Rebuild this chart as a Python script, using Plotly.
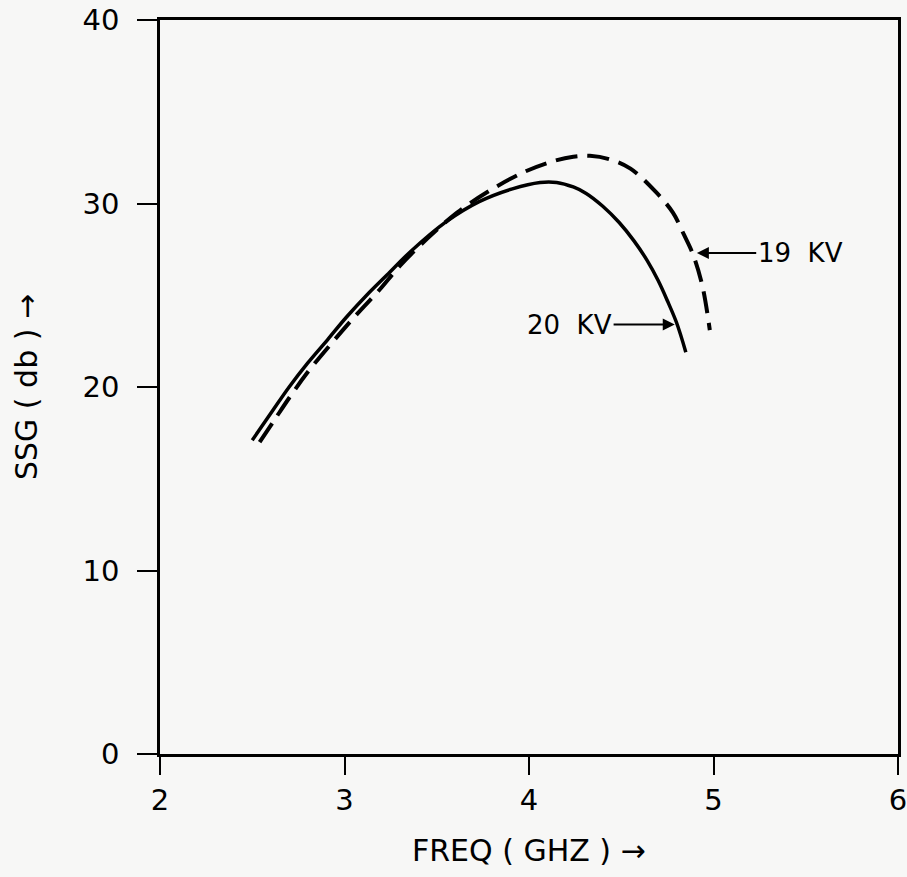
import plotly.graph_objects as go

# 20 KV (solid)
freq_20kv = [2.50, 2.61, 2.70, 2.80, 2.91, 3.01, 3.12, 3.23, 3.36, 3.55, 3.73, 3.91,
             4.06, 4.15, 4.24, 4.31, 4.40, 4.49, 4.57, 4.64, 4.70, 4.75, 4.80, 4.85]
ssg_20kv = [17.1, 18.7, 20.0, 21.3, 22.6, 23.8, 25.0, 26.1, 27.4, 29.0, 30.1, 30.8,
            31.15, 31.15, 30.9, 30.55, 29.85, 28.95, 27.95, 26.9, 25.8, 24.7, 23.5, 21.9]

# 19 KV (dashed)
freq_19kv = [2.54, 2.62, 2.70, 2.80, 2.94, 3.07, 3.19, 3.30, 3.45, 3.61, 3.77, 3.97,
             4.13, 4.24, 4.33, 4.44, 4.55, 4.69, 4.78, 4.84, 4.89, 4.94, 4.98]
ssg_19kv = [17.0, 18.2, 19.4, 20.8, 22.5, 24.0, 25.3, 26.6, 28.1, 29.5, 30.6, 31.7,
            32.3, 32.55, 32.6, 32.4, 31.9, 30.6, 29.5, 28.3, 27.2, 25.5, 23.1]

x_ticks = [2, 3, 4, 5, 6]
y_ticks = [0, 10, 20, 30, 40]

FONT = "DejaVu Sans"
BG = "#f7f7f6"

fig = go.Figure()
fig.add_trace(go.Scatter(x=freq_20kv, y=ssg_20kv, mode="lines",
                         line=dict(color="black", width=3.5, shape="spline", smoothing=1.0),
                         name="20 KV", showlegend=False))
fig.add_trace(go.Scatter(x=freq_19kv, y=ssg_19kv, mode="lines",
                         line=dict(color="black", width=4, dash="22px,10px",
                                   shape="spline", smoothing=1.0),
                         name="19 KV", showlegend=False))

axis_common = dict(showgrid=False, zeroline=False, showline=True, linecolor="black",
                   linewidth=2.5, mirror=True, ticks="outside",
                   tickwidth=2, tickcolor="black", automargin=False,
                   ticklabeloverflow="allow",
                   tickfont=dict(family=FONT, size=29, color="black"))

fig.update_xaxes(range=[2, 6], tickvals=x_ticks, ticktext=[str(v) for v in x_ticks],
                 ticklen=18, ticklabelstandoff=0, **axis_common)
fig.update_yaxes(range=[0, 40], tickvals=y_ticks, ticktext=[str(v) for v in y_ticks],
                 ticklen=20, ticklabelstandoff=12, **axis_common)

fig.add_annotation(x=4.91, y=27.3, ax=5.47, ay=27.3, axref="x", ayref="y",
                   text="19  KV", showarrow=True, arrowhead=2, arrowsize=1.2,
                   arrowwidth=2, arrowcolor="black",
                   font=dict(family=FONT, size=26, color="black"))
fig.add_annotation(x=4.79, y=23.4, ax=4.22, ay=23.4, axref="x", ayref="y",
                   text="20  KV", showarrow=True, arrowhead=2, arrowsize=1.2,
                   arrowwidth=2, arrowcolor="black",
                   font=dict(family=FONT, size=26, color="black"))

fig.add_annotation(xref="paper", yref="paper", x=0.5, y=0, yshift=-96,
                   xanchor="center", yanchor="middle", showarrow=False,
                   text="FREQ ( GHZ ) →", font=dict(family=FONT, size=30, color="black"))
fig.add_annotation(xref="paper", yref="paper", x=0, y=0.5, xshift=-134,
                   xanchor="center", yanchor="middle", showarrow=False, textangle=-90,
                   text="SSG ( db ) →", font=dict(family=FONT, size=30, color="black"))

fig.update_layout(width=907, height=877, margin=dict(l=160, r=9, t=20, b=123),
                  paper_bgcolor=BG, plot_bgcolor=BG)

fig.write_html("out.html")
